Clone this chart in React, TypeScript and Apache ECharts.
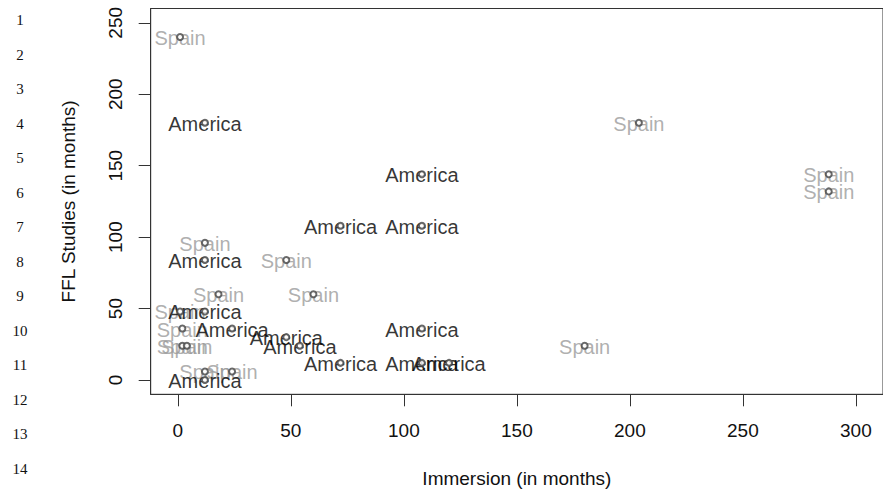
import React, { useEffect, useRef } from "react";
import * as echarts from "echarts";

// Data (months)
const americaX = [12, 108, 72, 108, 12, 12, 24, 48, 54, 108, 72, 108, 120, 12];
const americaY = [180, 144, 108, 108, 84, 48, 36, 30, 24, 36, 12, 12, 12, 0];
const spainX = [1, 204, 288, 288, 12, 48, 18, 60, 1, 2, 2, 4, 180, 12, 24];
const spainY = [240, 180, 144, 132, 96, 84, 60, 60, 48, 36, 24, 24, 24, 6, 6];
const xTicks = [0, 50, 100, 150, 200, 250, 300];
const yTicks = [0, 50, 100, 150, 200, 250];
const lineNumbers = [1, 2, 3, 4, 5, 6, 7, 8, 9, 10, 11, 12, 13, 14];

const FONT = "Liberation Sans";

export default function App() {
  const ref = useRef<HTMLDivElement>(null);
  useEffect(() => {
    if (!ref.current) return;
    const chart = echarts.init(ref.current, null, { renderer: "svg" });
    const america = americaX.map((x, i) => [x, americaY[i]]);
    const spain = spainX.map((x, i) => [x, spainY[i]]);
    const labelSeries = (name: string, data: number[][], color: string) => ({
      type: "scatter",
      name,
      data,
      symbolSize: 1,
      itemStyle: { color: "transparent" },
      label: {
        show: true,
        position: "inside",
        formatter: name,
        color,
        fontSize: 20,
        fontFamily: FONT,
        offset: [0, 1],
      },
      z: name === "America" ? 3 : 2,
      silent: true,
    });
    chart.setOption({
      animation: false,
      backgroundColor: "#ffffff",
      grid: {
        left: 150.7,
        right: -5.4,
        top: 8.5,
        bottom: 99.7,
        show: true,
        borderColor: "#333",
        borderWidth: 1,
        backgroundColor: "transparent",
      },
      xAxis: {
        type: "value",
        position: "bottom",
        min: -12,
        max: 312,
        name: "Immersion (in months)",
        nameLocation: "middle",
        nameGap: 75,
        nameTextStyle: { fontSize: 19, fontFamily: FONT, color: "#111" },
        axisLine: { show: true, onZero: false, lineStyle: { color: "#333", width: 1 } },
        splitLine: { show: false },
        axisTick: {
          show: true,
          inside: false,
          length: 12,
          customValues: xTicks,
          lineStyle: { color: "#333" },
        },
        axisLabel: {
          customValues: xTicks,
          margin: 27,
          fontSize: 19,
          fontFamily: FONT,
          color: "#111",
        },
      },
      yAxis: {
        type: "value",
        position: "left",
        min: -10,
        max: 260,
        name: "FFL Studies (in months)",
        nameLocation: "middle",
        nameGap: 73,
        nameRotate: 90,
        nameTextStyle: { fontSize: 19, fontFamily: FONT, color: "#111" },
        axisLine: { show: true, onZero: false, lineStyle: { color: "#333", width: 1 } },
        splitLine: { show: false },
        axisTick: {
          show: true,
          inside: false,
          length: 12,
          customValues: yTicks,
          lineStyle: { color: "#333" },
        },
        axisLabel: {
          customValues: yTicks,
          rotate: 90,
          margin: 26,
          fontSize: 19,
          fontFamily: FONT,
          color: "#111",
        },
      },
      graphic: lineNumbers.map((n, i) => ({
        type: "text",
        x: 20,
        y: 20 + i * 34.54,
        style: {
          text: String(n),
          fontSize: 15,
          fontFamily: "Liberation Serif",
          fill: "#111",
          align: "center",
          verticalAlign: "middle",
        },
      })),
      series: [
        labelSeries("Spain", spain, "#9a9a9a"),
        labelSeries("America", america, "#000000"),
        {
          type: "scatter",
          data: [...spain, ...america],
          symbol: "emptyCircle",
          symbolSize: 6,
          itemStyle: { color: "#444", borderColor: "#444", borderWidth: 0.8 },
          z: 4,
          silent: true,
        },
      ],
    });
    return () => chart.dispose();
  }, []);
  return (
    <div
      ref={ref}
      style={{ position: "absolute", left: 0, top: 0, width: 883, height: 494 }}
    />
  );
}
